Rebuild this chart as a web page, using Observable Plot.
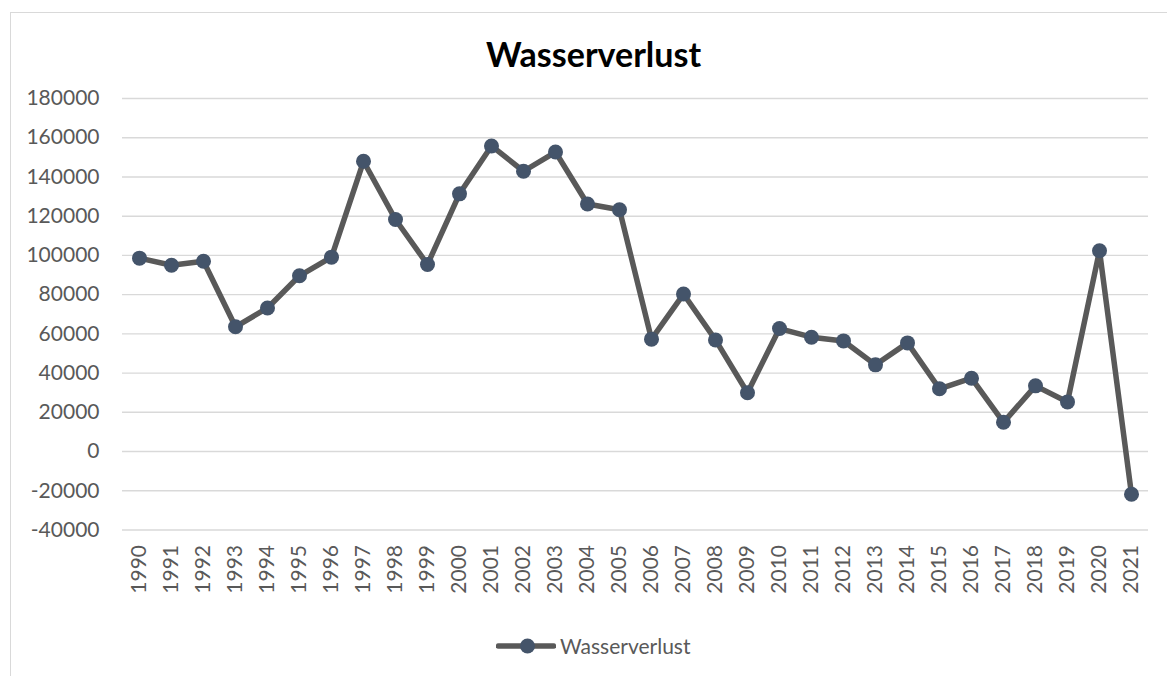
<!DOCTYPE html>
<html>
<head>
<meta charset="utf-8">
<script src="https://cdn.jsdelivr.net/npm/d3@7"></script>
<script src="https://cdn.jsdelivr.net/npm/@observablehq/plot@0.6"></script>
<style>
  html, body { margin: 0; padding: 0; background: #fff; }
  #wrap { position: relative; width: 1167px; height: 676px; overflow: hidden; font-family: Lato, "Open Sans", sans-serif; }
  #frame { position: absolute; left: 10px; top: 12px; width: 1160px; height: 700px; border-left: 1.5px solid #d9d9d9; border-top: 1.5px solid #d9d9d9; box-sizing: border-box; }
  #chart { position: absolute; left: 0; top: 0; }
  #title { position: absolute; left: 22px; width: 1143px; top: 34px; text-align: center; font-weight: bold; font-size: 34px; line-height: 1.2; color: #000; }
  #legend { position: absolute; left: 496px; top: 632px; height: 27px; display: flex; align-items: center; color: #595959; font-size: 21px; }
  #legend svg { margin-right: 4px; }
</style>
</head>
<body>
<div id="wrap">
  <div id="frame"></div>
  <div id="chart"></div>
  <div id="title">Wasserverlust</div>
  <div id="legend"></div>
</div>
<script>
const years = [1990,1991,1992,1993,1994,1995,1996,1997,1998,1999,2000,2001,2002,2003,2004,2005,2006,2007,2008,2009,2010,2011,2012,2013,2014,2015,2016,2017,2018,2019,2020,2021];
const wasserverlust = [98600,95000,97000,63600,73200,89600,99100,148000,118300,95400,131400,155800,142900,152700,126200,123300,57300,80300,56900,30000,62700,58300,56400,44200,55400,32000,37400,14900,33500,25300,102400,-21800];
const yTicks = [-40000,-20000,0,20000,40000,60000,80000,100000,120000,140000,160000,180000];
const seriesName = "Wasserverlust";

const data = years.map((y, i) => ({year: String(y), value: wasserverlust[i]}));

const lineColor = "#595959";
const dotColor = "#44546a";

const chart = Plot.plot({
  width: 1167,
  height: 676,
  marginTop: 98,
  marginBottom: 146.5,
  marginLeft: 122,
  marginRight: 19,
  style: {fontFamily: "Lato, 'Open Sans', sans-serif", fontSize: "21px", color: "#595959", background: "transparent", overflow: "visible"},
  x: {type: "point", domain: years.map(String), padding: 0.5, axis: null},
  y: {domain: [-40000, 180000], axis: null},
  marks: [
    Plot.ruleY(yTicks, {stroke: "#d9d9d9", strokeWidth: 1.4}),
    Plot.axisY(yTicks, {tickSize: 0, tickPadding: 23, tickFormat: d => String(d), fontSize: 21, label: null}),
    Plot.axisX(years.map(String), {tickSize: 0, tickRotate: -90, tickPadding: 15, fontSize: 21, label: null}),
    Plot.line(data, {x: "year", y: "value", stroke: lineColor, strokeWidth: 5.5, strokeLinejoin: "round"}),
    Plot.dot(data, {x: "year", y: "value", r: 7.5, fill: dotColor, stroke: "none"})
  ]
});
document.getElementById("chart").appendChild(chart);

const legend = document.getElementById("legend");
const ns = "http://www.w3.org/2000/svg";
const lsvg = document.createElementNS(ns, "svg");
lsvg.setAttribute("width", "60");
lsvg.setAttribute("height", "20");
const ll = document.createElementNS(ns, "line");
ll.setAttribute("x1", "2.5"); ll.setAttribute("x2", "57.5");
ll.setAttribute("y1", "10"); ll.setAttribute("y2", "10");
ll.setAttribute("stroke", lineColor); ll.setAttribute("stroke-width", "5.5"); ll.setAttribute("stroke-linecap", "round");
const lc = document.createElementNS(ns, "circle");
lc.setAttribute("cx", "31.5"); lc.setAttribute("cy", "10"); lc.setAttribute("r", "7.5"); lc.setAttribute("fill", dotColor);
lsvg.appendChild(ll); lsvg.appendChild(lc);
legend.appendChild(lsvg);
const lt = document.createElement("span");
lt.textContent = seriesName;
legend.appendChild(lt);
</script>
</body>
</html>
